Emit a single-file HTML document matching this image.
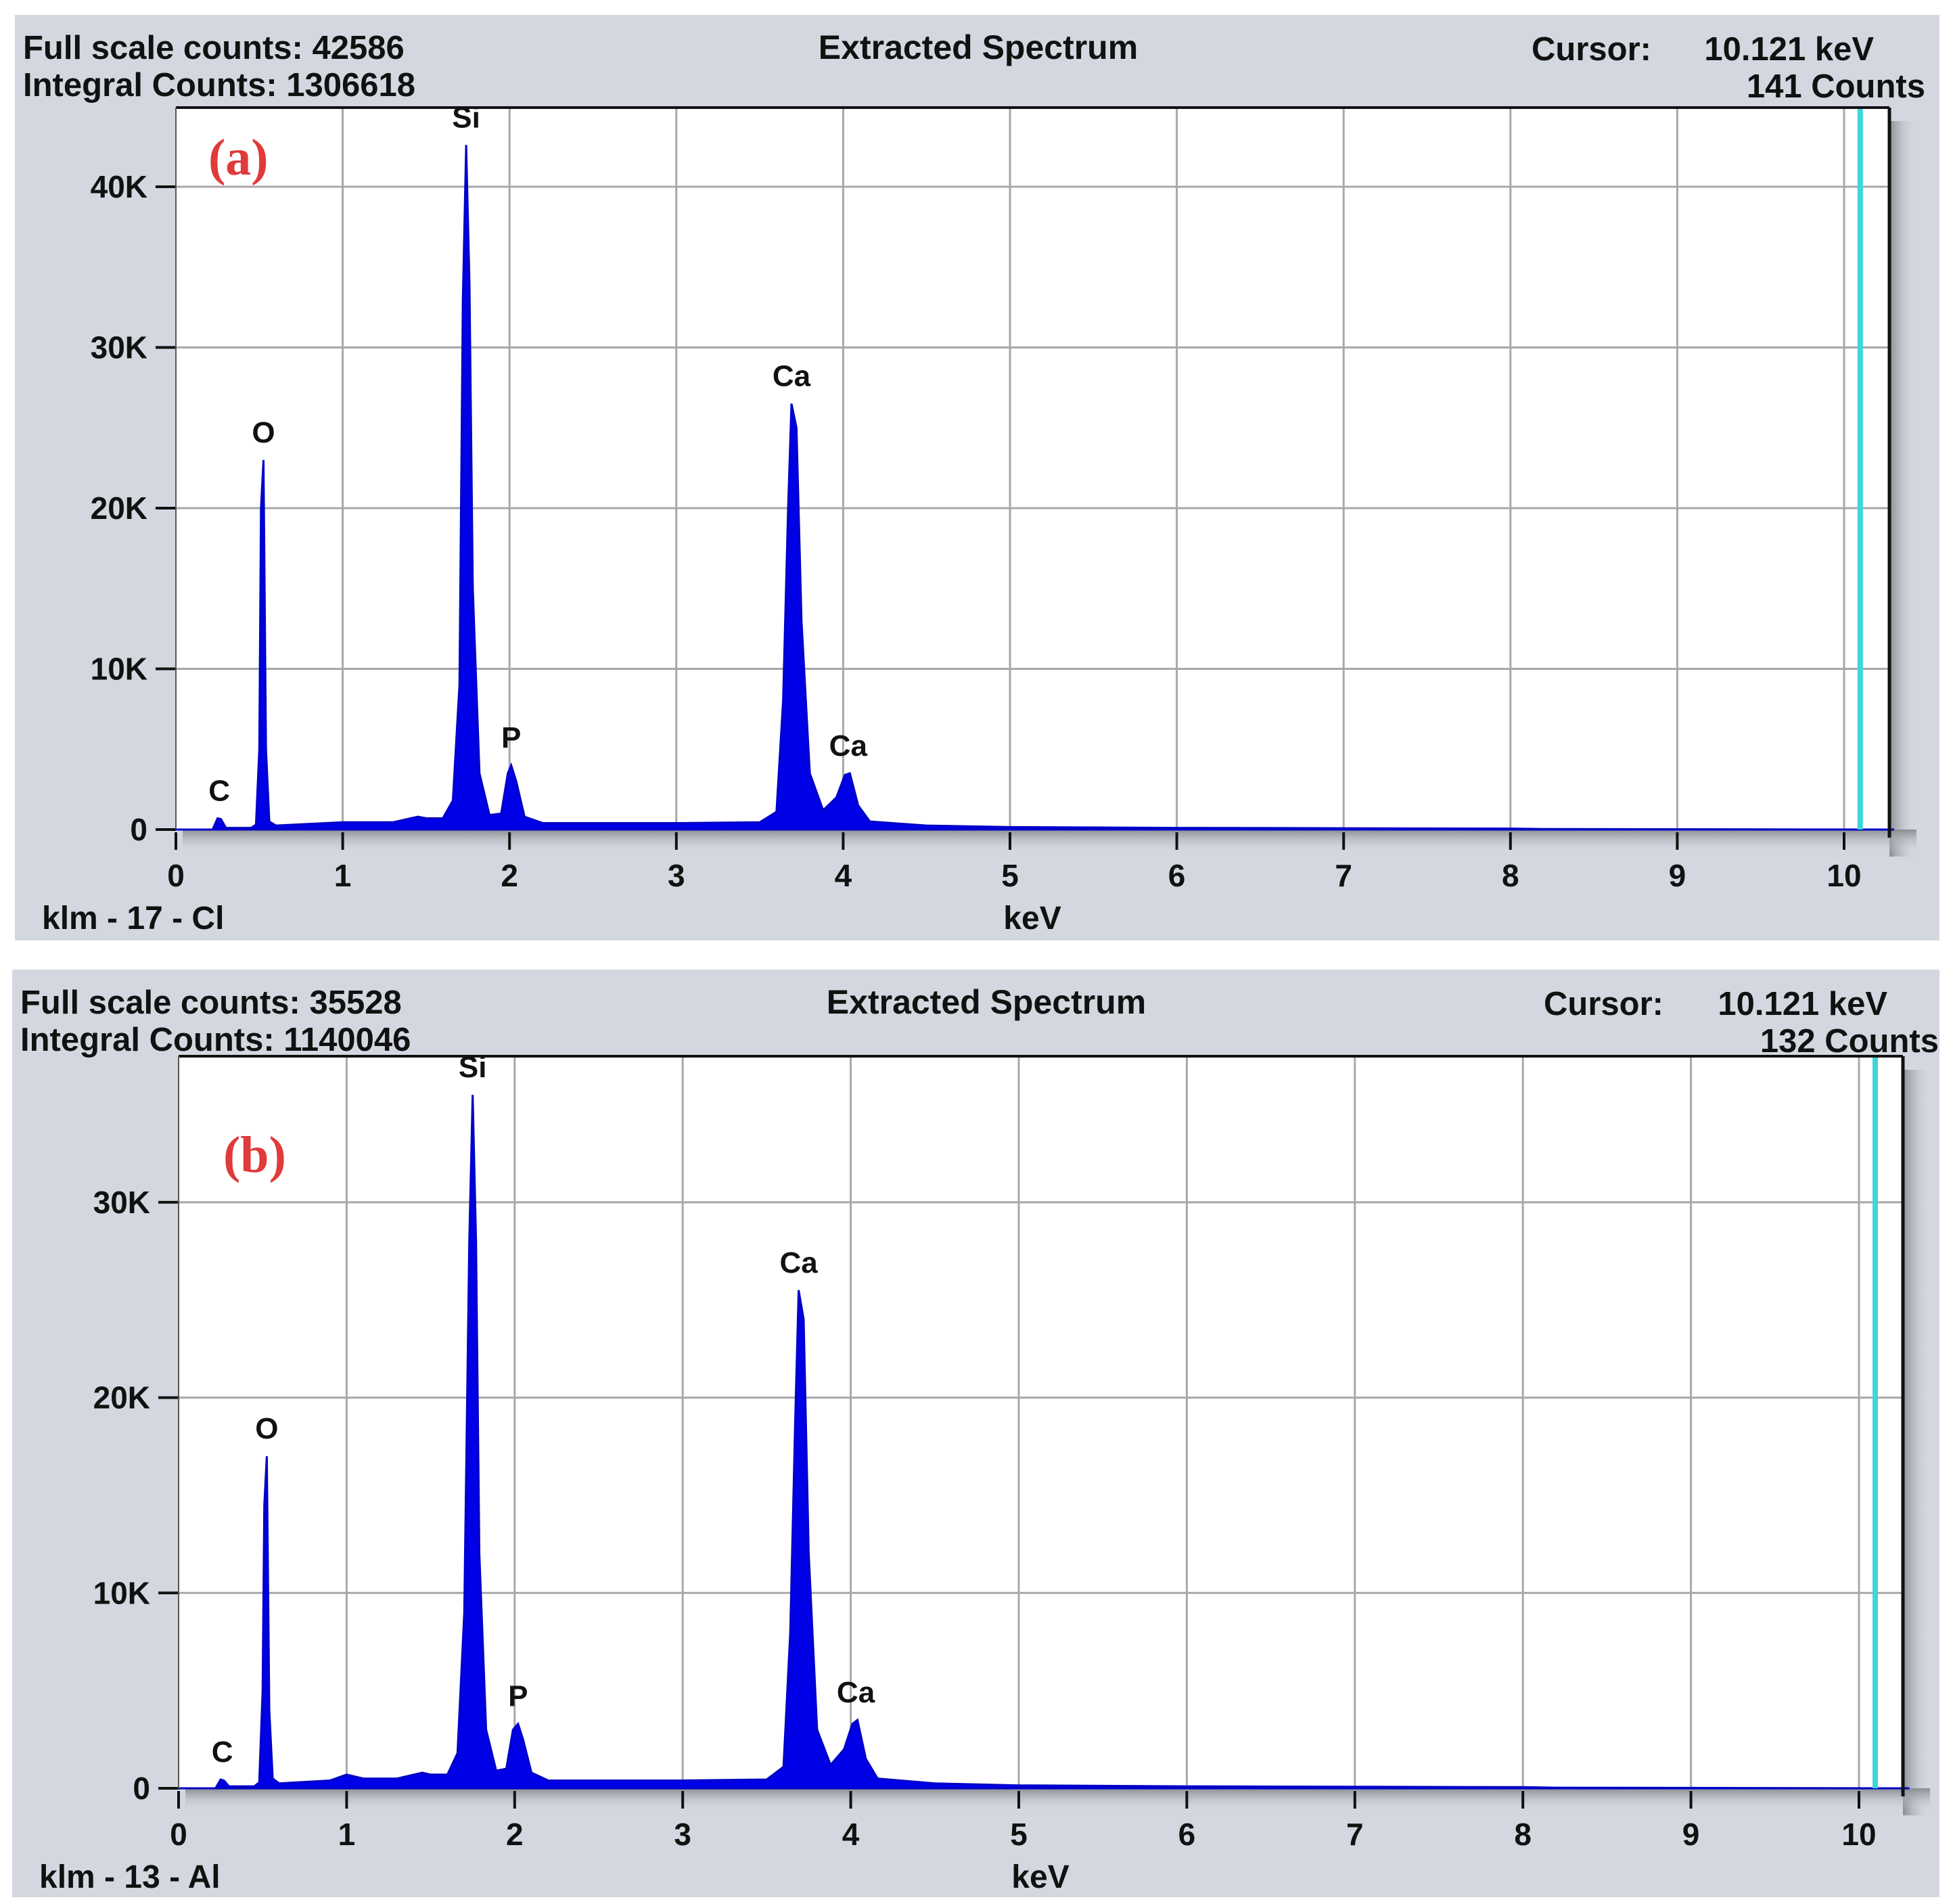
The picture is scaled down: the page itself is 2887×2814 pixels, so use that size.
<!DOCTYPE html>
<html><head><meta charset="utf-8">
<style>
html,body{margin:0;padding:0;background:#fff;}
svg{display:block;}
text{font-family:"Liberation Sans","DejaVu Sans",sans-serif;font-weight:bold;fill:#111;}
</style></head>
<body>
<svg id="root" width="2887" height="2814" viewBox="0 0 2887 2814" xmlns="http://www.w3.org/2000/svg">
<defs>
<linearGradient id="shR" x1="0" x2="1" y1="0" y2="0"><stop offset="0" stop-color="#8a8d92"/><stop offset="1" stop-color="#d3d8e0" stop-opacity="0"/></linearGradient>
<linearGradient id="shB" x1="0" x2="0" y1="0" y2="1"><stop offset="0" stop-color="#8a8d92"/><stop offset="1" stop-color="#d3d8e0" stop-opacity="0"/></linearGradient>
</defs>
</svg>
<script>
// ---- Panel (a) data ----
const keVA = [0,0.22,0.25,0.27,0.30,0.45,0.48,0.50,0.51,0.525,0.54,0.56,0.60,1.0,1.3,1.45,1.5,1.6,1.66,1.70,1.72,1.74,1.76,1.78,1.82,1.88,1.95,1.99,2.01,2.04,2.09,2.2,3.0,3.5,3.6,3.64,3.67,3.69,3.72,3.75,3.80,3.88,3.96,4.01,4.04,4.09,4.16,4.5,5,6,7,8,8.2,10.3];
const countsA = [0,0,700,650,100,100,300,5000,20000,23000,5000,500,250,450,450,800,700,700,1800,9000,33000,42600,34000,15000,3500,900,1000,3500,4000,3000,800,400,400,450,1100,8000,20000,26500,25000,13000,3500,1200,2000,3400,3500,1500,500,250,150,100,80,60,30,0];
// ---- Panel (b) data ----
const keVB = [0,0.22,0.25,0.27,0.30,0.45,0.48,0.50,0.51,0.525,0.54,0.56,0.60,0.9,1.0,1.1,1.3,1.45,1.5,1.6,1.66,1.70,1.73,1.75,1.77,1.79,1.83,1.89,1.95,1.99,2.02,2.05,2.10,2.2,3.0,3.5,3.6,3.64,3.67,3.69,3.72,3.75,3.80,3.88,3.96,4.01,4.04,4.09,4.16,4.5,5,6,7,8,8.2,10.3];
const countsB = [0,0,450,400,100,100,300,5000,14500,17000,4000,500,250,400,700,500,500,800,700,700,1800,9000,28000,35500,28000,12000,3000,900,1000,3000,3300,2500,800,400,400,450,1100,8000,19000,25500,24000,12000,3000,1200,2000,3300,3500,1500,500,250,150,100,80,60,30,0];
const xTicks = [0,1,2,3,4,5,6,7,8,9,10];
const yTicksA = [0,10000,20000,30000,40000];
const yTicksB = [0,10000,20000,30000];
const yTickLabelsA = ["0","10K","20K","30K","40K"];
const yTickLabelsB = ["0","10K","20K","30K"];
const peakNamesA = ["C","O","Si","P","Ca","Ca"];
const peakKeVA = [0.26,0.525,1.74,2.01,3.69,4.03];
const peakCountsA = [700,23000,42600,4000,26500,3500];
const peakNamesB = ["C","O","Si","P","Ca","Ca"];
const peakKeVB = [0.26,0.525,1.75,2.02,3.69,4.03];
const peakCountsB = [450,17000,35500,3300,25500,3500];
const cursorKeV = 10.121;

const NS = "http://www.w3.org/2000/svg";
const root = document.getElementById('root');
function mk(tag, attrs, parent, txt){
  const e = document.createElementNS(NS, tag);
  for (const k in attrs) e.setAttribute(k, attrs[k]);
  if (txt !== undefined) e.textContent = txt;
  (parent||root).appendChild(e);
  return e;
}

function panel(cfg){
  const g = mk('g', {});
  
  
  const bg = mk('rect', {x:cfg.bx, y:cfg.by, width:cfg.bw, height:cfg.bh, fill:'#d3d8e0'}, g);
  
  
  const X = v => cfg.x0 + v * cfg.pxPerKeV;
  const Y = v => cfg.y0 - v * cfg.pxPerCount;
  mk('rect', {x:cfg.px1, y:cfg.py0+20, width:40, height:cfg.py1-cfg.py0+20, fill:'url(#shR)'}, g);
  mk('rect', {x:cfg.px0+10, y:cfg.py1, width:cfg.px1-cfg.px0+30, height:34, fill:'url(#shB)'}, g);
  const plot = mk('rect', {x:cfg.px0, y:cfg.py0, width:cfg.px1-cfg.px0, height:cfg.py1-cfg.py0, fill:'#fff'}, g);
  
  
  xTicks.forEach(t=>{
    if (t>0){
      const l = mk('line', {x1:X(t), x2:X(t), y1:cfg.py0, y2:cfg.py1, stroke:'#a8a8a8', 'stroke-width':3}, g);
      
      
    }
    mk('line', {x1:X(t), x2:X(t), y1:cfg.py1+4, y2:cfg.py1+30, stroke:'#111', 'stroke-width':4}, g);
    const tl = mk('text', {x:X(t), y:cfg.py1+84, 'font-size':46, 'text-anchor':'middle'}, g, String(t));
    
    
  });
  cfg.yTicks.forEach((t,i)=>{
    if (t>0){
      const l = mk('line', {x1:cfg.px0, x2:cfg.px1, y1:Y(t), y2:Y(t), stroke:'#a8a8a8', 'stroke-width':3}, g);
      
      
    }
    mk('line', {x1:cfg.px0-30, x2:cfg.px0, y1:Y(t), y2:Y(t), stroke:'#111', 'stroke-width':4}, g);
    const tl = mk('text', {x:cfg.px0-42, y:Y(t)+16, 'font-size':46, 'text-anchor':'end'}, g, cfg.yLabels[i]);
    
    
  });
  let d = '';
  cfg.keV.forEach((k,i)=>{ d += (i?'L':'M') + X(k).toFixed(1) + ' ' + Y(cfg.counts[i]).toFixed(1) + ' '; });
  d += 'Z';
  const sp = mk('path', {d:d, fill:'#0000e6', stroke:'#0000c8', 'stroke-width':3}, g);
  
  
  const cur = mk('line', {x1:X(cursorKeV)-6, x2:X(cursorKeV)-6, y1:cfg.py0, y2:cfg.py1, stroke:'#3cd6dc', 'stroke-width':8}, g);
  
  
  mk('line', {x1:cfg.px0, x2:cfg.px1, y1:cfg.py0, y2:cfg.py0, stroke:'#111', 'stroke-width':4}, g);
  mk('line', {x1:cfg.px1, x2:cfg.px1, y1:cfg.py0, y2:cfg.py1+12, stroke:'#111', 'stroke-width':5}, g);
  mk('line', {x1:cfg.px0, x2:cfg.px0, y1:cfg.py0, y2:cfg.py1, stroke:'#555', 'stroke-width':2}, g);
  cfg.peakNames.forEach((n,i)=>{
    const t = mk('text', {x:X(cfg.peakKeV[i]), y:Y(cfg.peakCounts[i])-26, 'font-size':44, 'text-anchor':'middle'}, g, n);
    
    
  });
  const pl = mk('text', {x:cfg.letterX, y:cfg.letterY, 'font-size':76, 'style':'font-family:"Liberation Serif",serif;fill:#e03a3a;font-weight:bold'}, g, cfg.letter);
  
  
  const t1 = mk('text', {x:cfg.bx+12, y:cfg.by+65, 'font-size':49}, g, cfg.full);
  
  
  const t2 = mk('text', {x:cfg.bx+12, y:cfg.by+120, 'font-size':49}, g, cfg.integral);
  
  
  const t3 = mk('text', {x:cfg.titleX, y:cfg.by+65, 'font-size':50, 'text-anchor':'middle'}, g, 'Extracted Spectrum');
  
  
  const t4 = mk('text', {x:cfg.cursorX, y:cfg.by+67, 'font-size':49}, g, 'Cursor:');
  
  
  const t5 = mk('text', {x:cfg.keVRight, y:cfg.by+67, 'font-size':49, 'text-anchor':'end'}, g, '10.121 keV');
  
  
  const t6 = mk('text', {x:cfg.countsRight, y:cfg.by+122, 'font-size':49, 'text-anchor':'end'}, g, cfg.cursorCounts);
  
  
  const t7 = mk('text', {x:cfg.bx+40, y:cfg.py1+147, 'font-size':48}, g, cfg.sample);
  
  
  const t8 = mk('text', {x:cfg.titleX+80, y:cfg.py1+147, 'font-size':48, 'text-anchor':'middle'}, g, 'keV');
  
  
}

panel({name:'panel-a', bx:22, by:22, bw:2845, bh:1368,
  px0:260, px1:2793, py0:159, py1:1226, x0:260, pxPerKeV:246.6, y0:1226, pxPerCount:0.02375,
  yTicks:yTicksA, yLabels:yTickLabelsA, keV:keVA, counts:countsA,
  peakNames:peakNamesA, peakKeV:peakKeVA, peakCounts:peakCountsA,
  letter:'(a)', letterX:308, letterY:258,
  full:'Full scale counts: 42586', integral:'Integral Counts: 1306618',
  titleX:1446, cursorX:2264, keVRight:2770, countsRight:2846, cursorCounts:'141 Counts', sample:'klm - 17 - Cl'});

panel({name:'panel-b', bx:18, by:1433, bw:2849, bh:1371,
  px0:264, px1:2813, py0:1561, py1:2643, x0:264, pxPerKeV:248.4, y0:2643, pxPerCount:0.02887,
  yTicks:yTicksB, yLabels:yTickLabelsB, keV:keVB, counts:countsB,
  peakNames:peakNamesB, peakKeV:peakKeVB, peakCounts:peakCountsB,
  letter:'(b)', letterX:330, letterY:1732,
  full:'Full scale counts: 35528', integral:'Integral Counts: 1140046',
  titleX:1458, cursorX:2282, keVRight:2790, countsRight:2866, cursorCounts:'132 Counts', sample:'klm - 13 - Al'});
</script>
</body></html>
